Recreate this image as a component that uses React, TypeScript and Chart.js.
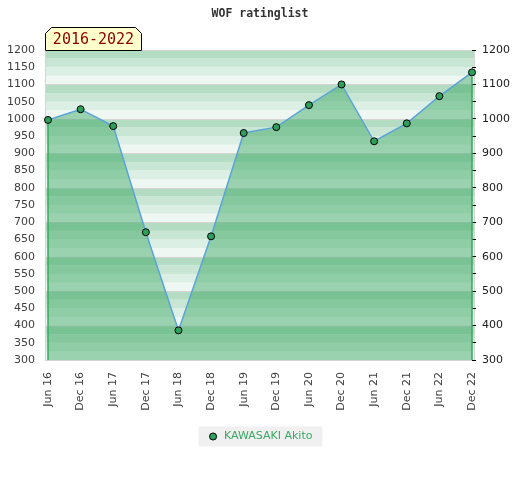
import React, { useEffect, useRef } from 'react';
import { Chart, registerables } from 'chart.js';

Chart.register(...registerables);

// ---- data ----
const periods: string[] = [
  'Jun 16', 'Dec 16', 'Jun 17', 'Dec 17', 'Jun 18', 'Dec 18', 'Jun 19',
  'Dec 19', 'Jun 20', 'Dec 20', 'Jun 21', 'Dec 21', 'Jun 22', 'Dec 22',
];
const ratings: number[] = [997, 1028, 979, 671, 386, 659, 959, 976, 1040, 1100, 935, 987, 1066, 1135];
const seriesName = 'KAWASAKI Akito';
const chartTitle = 'WOF ratinglist';
const rangeLabel = '2016-2022';
const yMin = 300;
const yMax = 1200;
const leftStep = 50;
const rightLabelStep = 100;

const stripeColors = ['#eff7f2', '#dcefe4', '#c9e6d4', '#b3dcc3'];

const backgroundPlugin = {
  id: 'stripedBackground',
  beforeDraw(chart: any) {
    const { ctx, chartArea: ca, scales } = chart;
    const y = scales.y;
    const left = ca.left - 3;
    const right = ca.right + 3;
    ctx.save();
    let i = 0;
    for (let v = y.min; v < y.max; v += 25, i++) {
      const yt = y.getPixelForValue(v + 25);
      const yb = y.getPixelForValue(v);
      ctx.fillStyle = stripeColors[i % 4];
      ctx.fillRect(left, yt, right - left, yb - yt);
    }
    ctx.strokeStyle = '#d4d4d4';
    ctx.lineWidth = 1;
    ctx.beginPath();
    for (let v = y.min; v <= y.max; v += 100) {
      const py = Math.round(y.getPixelForValue(v)) + 0.5;
      ctx.moveTo(left, py);
      ctx.lineTo(right, py);
    }
    const top = y.getPixelForValue(y.max);
    const bottom = y.getPixelForValue(y.min);
    ctx.moveTo(left + 0.5, top);
    ctx.lineTo(left + 0.5, bottom);
    ctx.moveTo(right - 0.5, top);
    ctx.lineTo(right - 0.5, bottom);
    ctx.stroke();

    // legend background
    const hb = chart.legend && chart.legend.legendHitBoxes && chart.legend.legendHitBoxes[0];
    if (hb) {
      const cy = hb.top + hb.height / 2;
      ctx.fillStyle = '#f0f0f0';
      ctx.fillRect(hb.left - 9, cy - 10, hb.width + 19, 20);
    }
    ctx.restore();
  },
  afterDatasetsDraw(chart: any) {
    const { ctx, chartArea: ca } = chart;
    const meta = chart.getDatasetMeta(0);
    const pts = meta.data;
    if (!pts.length) return;
    ctx.save();
    ctx.strokeStyle = '#33aa5c';
    ctx.lineWidth = 1.5;
    ctx.beginPath();
    [pts[0], pts[pts.length - 1]].forEach((p: any) => {
      ctx.moveTo(p.x, p.y + 4);
      ctx.lineTo(p.x, ca.bottom);
    });
    ctx.stroke();
    ctx.restore();
  },
  afterDraw(chart: any) {
    const { ctx, chartArea: ca } = chart;
    ctx.save();
    ctx.font = '15px "DejaVu Sans Mono"';
    const tw = ctx.measureText(rangeLabel).width;
    const x0 = ca.left - 3 + 0.5;
    const x1 = Math.round(x0 + tw + 14) + 0.5;
    const yb = ca.top + 0.5;
    const yt = ca.top - 23 + 0.5;
    const c = 6;
    ctx.beginPath();
    ctx.moveTo(x0, yb);
    ctx.lineTo(x0, yt + c);
    ctx.lineTo(x0 + c, yt);
    ctx.lineTo(x1 - c, yt);
    ctx.lineTo(x1, yt + c);
    ctx.lineTo(x1, yb);
    ctx.closePath();
    ctx.fillStyle = '#ffffcc';
    ctx.fill();
    ctx.strokeStyle = '#000';
    ctx.lineWidth = 1;
    ctx.stroke();
    ctx.fillStyle = '#8b0000';
    ctx.textAlign = 'center';
    ctx.textBaseline = 'middle';
    ctx.fillText(rangeLabel, (x0 + x1) / 2, yt + 12.5);
    ctx.restore();
  },
};

export default function App() {
  const ref = useRef<HTMLCanvasElement | null>(null);

  useEffect(() => {
    if (!ref.current) return;
    Chart.defaults.font.family = '"DejaVu Sans", sans-serif';
    const chart = new Chart(ref.current, {
      type: 'line',
      data: {
        labels: periods,
        datasets: [
          {
            label: seriesName,
            data: ratings,
            borderColor: '#5ba3d9',
            borderWidth: 1.5,
            backgroundColor: 'rgba(46,161,89,0.44)',
            fill: 'start',
            tension: 0,
            pointRadius: 3.5,
            pointBackgroundColor: '#2e9e5b',
            pointBorderColor: '#000',
            pointBorderWidth: 1,
            clip: 8,
            yAxisID: 'y',
          } as any,
        ],
      },
      options: {
        animation: false,
        responsive: false,
        devicePixelRatio: 1,
        layout: { padding: { top: 0, left: 0, right: 0, bottom: 28 } },
        scales: {
          x: {
            type: 'category',
            offset: false,
            grid: { display: false, drawTicks: false },
            border: { display: false },
            ticks: {
              autoSkip: false,
              minRotation: 90,
              maxRotation: 90,
              padding: 12,
              color: '#404040',
              font: { size: 11 },
            },
            afterFit: (s: any) => { s.height = 61; },
          },
          y: {
            position: 'left',
            min: yMin,
            max: yMax,
            grid: { display: false, drawTicks: false },
            border: { display: false },
            ticks: {
              stepSize: leftStep,
              padding: 13,
              color: '#404040',
              font: { size: 11 },
              callback: (v: any) => String(v),
            },
            afterFit: (s: any) => { s.width = 48; },
          },
          y1: {
            position: 'right',
            min: yMin,
            max: yMax,
            grid: { drawOnChartArea: false, drawTicks: true, tickLength: 4, color: '#000', lineWidth: 1 },
            border: { display: false },
            ticks: {
              stepSize: leftStep,
              padding: 6,
              color: '#202020',
              font: { size: 11 },
              callback: (v: any) => (Number(v) % rightLabelStep === 0 ? String(v) : ''),
            },
            afterFit: (s: any) => { s.width = 48; },
          },
        },
        plugins: {
          title: {
            display: true,
            text: chartTitle,
            color: '#333',
            font: { family: '"DejaVu Sans Mono", monospace', size: 11.5, weight: 'bold', lineHeight: '14px' } as any,
            padding: { top: 7, bottom: 29 },
          },
          legend: {
            display: true,
            position: 'bottom',
            labels: {
              usePointStyle: true,
              boxHeight: 5,
              padding: 10,
              color: '#3aa865',
              font: { size: 11 },
              generateLabels: () => [
                {
                  text: seriesName,
                  fillStyle: '#2e9e5b',
                  strokeStyle: '#000',
                  lineWidth: 1,
                  pointStyle: 'circle',
                  hidden: false,
                  datasetIndex: 0,
                  fontColor: '#3aa865',
                } as any,
              ],
            },
          },
          tooltip: { enabled: false },
        },
      },
      plugins: [backgroundPlugin],
    });
    return () => chart.destroy();
  }, []);

  return (
    <div style={{ position: 'fixed', left: 0, top: 0, width: 520, height: 480, background: '#fff' }}>
      <canvas ref={ref} width={520} height={480} style={{ width: 520, height: 480, display: 'block' }} />
    </div>
  );
}
